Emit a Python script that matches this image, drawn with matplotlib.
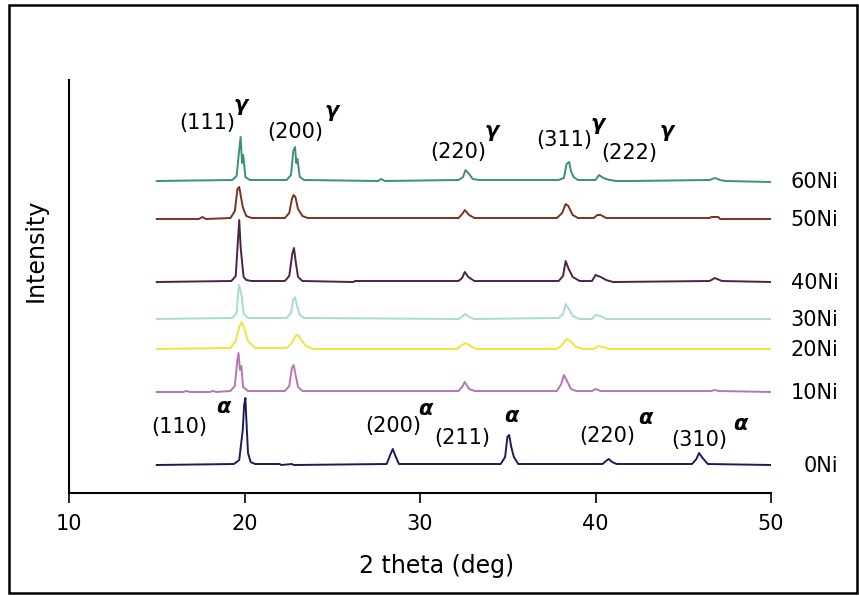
import matplotlib
matplotlib.use("Agg")
import matplotlib.pyplot as plt
from matplotlib.patches import Rectangle

plt.rcParams['font.family'] = ['DejaVu Sans']
plt.rcParams['mathtext.fontset'] = 'dejavusans'

# XRD patterns, 2theta (deg) vs intensity above each pattern's baseline
tt_60 = [15.0, 19.3, 19.55, 19.68, 19.78, 19.86, 19.93, 20.05, 20.3, 22.4, 22.65, 22.78, 22.88, 22.95, 23.02, 23.15, 23.4,
         27.6, 27.8, 28.0, 32.2, 32.45, 32.6, 32.8, 33.0, 33.4, 37.9, 38.2, 38.35, 38.5, 38.6, 38.75, 39.0,
         40.0, 40.2, 40.45, 40.8, 41.2, 42.0, 46.5, 46.8, 47.1, 47.4, 50.0]
I_60 = [0, 1, 5, 28, 44, 18, 26, 4, 1, 1, 6, 30, 34, 18, 22, 4, 1,
        0, 2, 0, 1, 4, 11, 7, 2, 1, 1, 3, 17, 19, 10, 4, 1,
        1, 6, 3, 1, 0, 0, 1, 3, 1, 0, -1]

tt_50 = [15.0, 17.4, 17.6, 17.8, 19.2, 19.45, 19.6, 19.7, 19.8, 19.9, 20.1, 20.4, 22.3, 22.55, 22.7, 22.8, 22.9, 23.05,
         23.3, 23.6, 32.2, 32.45, 32.55, 32.8, 33.1, 37.8, 38.1, 38.3, 38.45, 38.7, 39.0, 39.9, 40.1, 40.3, 40.6,
         46.5, 46.6, 47.0, 47.1, 50.0]
I_50 = [0, 0, 2, 0, 1, 8, 30, 32, 22, 12, 3, 1, 1, 6, 20, 24, 22, 10,
        3, 1, 1, 6, 9, 4, 1, 1, 6, 15, 13, 4, 1, 1, 4, 4, 1,
        1, 2, 2, 0, 0]

tt_40 = [15.0, 19.25, 19.5, 19.62, 19.7, 19.78, 19.86, 19.95, 20.1, 20.4, 22.3, 22.55, 22.72, 22.82, 22.92, 23.05, 23.3,
         26.2, 26.3, 32.2, 32.4, 32.55, 32.75, 33.1, 37.9, 38.15, 38.3, 38.45, 38.7, 39.1, 39.8, 40.0, 40.3, 40.6, 41.0,
         46.5, 46.8, 47.2, 50.0]
I_40 = [0, 1, 6, 40, 62, 35, 20, 5, 2, 1, 1, 6, 28, 34, 20, 5, 1,
        0, 1, 1, 4, 10, 5, 1, 1, 6, 21, 14, 5, 1, 1, 7, 5, 2, 0,
        1, 4, 1, 0]

tt_30 = [15.0, 19.3, 19.55, 19.68, 19.75, 19.85, 19.95, 20.2, 22.4, 22.65, 22.78, 22.88, 22.98, 23.15, 23.4,
         32.2, 32.45, 32.55, 32.8, 33.1, 37.9, 38.15, 38.3, 38.45, 38.7, 39.1, 39.8, 40.0, 40.3, 40.6, 50.0]
I_30 = [0, 1, 6, 34, 30, 22, 5, 1, 1, 6, 20, 22, 14, 4, 1,
        0, 3, 5, 2, 0, 1, 5, 15, 11, 3, 0, 0, 4, 3, 0, 0]

tt_20 = [15.0, 19.2, 19.5, 19.7, 19.85, 20.0, 20.2, 20.6, 22.4, 22.7, 22.9, 23.05, 23.2, 23.5, 23.9,
         32.1, 32.4, 32.6, 32.8, 33.2, 37.8, 38.1, 38.35, 38.55, 38.9, 39.3, 39.9, 40.15, 40.4, 40.8, 50.0]
I_20 = [0, 1, 8, 22, 27, 20, 8, 1, 1, 6, 13, 14, 10, 3, 0,
        0, 4, 6, 4, 0, 0, 4, 10, 8, 2, 0, 0, 3, 2, 0, 0]

tt_10 = [15.0, 16.5, 16.7, 16.9, 18.0, 18.2, 18.4, 19.2, 19.45, 19.58, 19.66, 19.74, 19.82, 19.92, 20.2,
         22.3, 22.55, 22.7, 22.8, 22.9, 23.05, 23.3, 32.2, 32.4, 32.55, 32.8, 33.1, 37.8, 38.05, 38.2, 38.35, 38.6, 38.9,
         39.8, 40.0, 40.3, 46.6, 46.8, 47.0, 50.0]
I_10 = [0, 0, 1, 0, 0, 1, 0, 1, 6, 30, 39, 22, 26, 5, 1,
        1, 6, 24, 27, 18, 5, 1, 1, 5, 10, 3, 1, 1, 8, 17, 12, 3, 1,
        1, 3, 1, 1, 2, 1, 0]

tt_0 = [15.0, 19.4, 19.7, 19.9, 19.98, 20.05, 20.12, 20.2, 20.35, 20.6, 22.0, 22.1, 22.7, 22.8,
        28.1, 28.3, 28.45, 28.6, 28.8, 34.6, 34.85, 34.98, 35.08, 35.2, 35.35, 35.6,
        40.4, 40.6, 40.75, 40.95, 41.2, 45.5, 45.75, 45.9, 46.1, 46.4, 50.0]
I_0 = [0, 1, 5, 35, 60, 67, 40, 12, 3, 1, 1, 0, 1, 0,
       1, 10, 16, 9, 1, 1, 8, 28, 30, 18, 8, 1,
       1, 4, 6, 3, 1, 1, 6, 12, 7, 1, 0]

names = ['60Ni', '50Ni', '40Ni', '30Ni', '20Ni', '10Ni', '0Ni']
angles = [tt_60, tt_50, tt_40, tt_30, tt_20, tt_10, tt_0]
counts = [I_60, I_50, I_40, I_30, I_20, I_10, I_0]
offsets = [312, 274, 211, 174, 144, 101, 28]
colors = ['#3c8f7a', '#7a3222', '#4a2446', '#a6dcd6', '#f0e43c', '#b874b8', '#1c1c5c']

# peak labels: text, left x, baseline y ; greek superscript position
hkl = ['(111)', '(200)', '(220)', '(311)', '(222)', '(110)', '(200)', '(211)', '(220)', '(310)']
phase = ['γ', 'γ', 'γ', 'γ', 'γ', 'α', 'α', 'α', 'α', 'α']
hkl_x = [16.3, 21.3, 30.6, 36.6, 40.3, 14.7, 26.9, 30.8, 39.1, 44.3]
hkl_y = [364, 355, 335, 347, 334, 60, 61, 49, 51, 47]
sup_x = [19.8, 24.95, 34.1, 40.15, 44.05, 18.8, 30.3, 35.2, 42.85, 48.25]
sup_y = [388, 382, 362, 369, 362, 86, 84, 77, 75, 69]

fig = plt.figure(figsize=(8.59, 5.96), dpi=100)
ax = fig.add_axes([69 / 859, 1 - 493 / 596, 702 / 859, 413 / 596])

for tt, cnt, off, col, name in zip(angles, counts, offsets, colors, names):
    ax.plot(tt, [c + off for c in cnt], color=col, lw=1.4)
    ax.text(53.85, off - 1, name, ha='right', va='center', fontsize=15, clip_on=False)

for t, g, x, y, sx, sy in zip(hkl, phase, hkl_x, hkl_y, sup_x, sup_y):
    ax.text(x, y, t, ha='left', va='baseline', fontsize=15)
    ax.text(sx, sy, g, ha='center', va='center', fontsize=15, fontstyle='italic', fontweight='bold')

ax.set_xlim(10, 50)
ax.set_ylim(0, 413)
ax.set_xticks([10, 20, 30, 40, 50])
ax.set_yticks([])
ax.tick_params(axis='x', direction='out', length=7, width=1.2, labelsize=15, pad=8)
ax.spines['top'].set_visible(False)
ax.spines['right'].set_visible(False)
ax.spines['left'].set_linewidth(1.5)
ax.spines['bottom'].set_linewidth(1.5)

ax.set_xlabel('2 theta (deg)', fontsize=17)
ax.xaxis.set_label_coords(0.524, -0.177)
ax.xaxis.label.set_va('center')
ax.set_ylabel('Intensity', fontsize=17)
ax.yaxis.set_label_coords(-0.048, 0.588)
ax.yaxis.label.set_va('center')

fig.patches.append(Rectangle((9 / 859, 3 / 596), 848 / 859, 588 / 596, transform=fig.transFigure,
                             fill=False, edgecolor='black', lw=1.8))

fig.savefig('out.png', dpi=100)
